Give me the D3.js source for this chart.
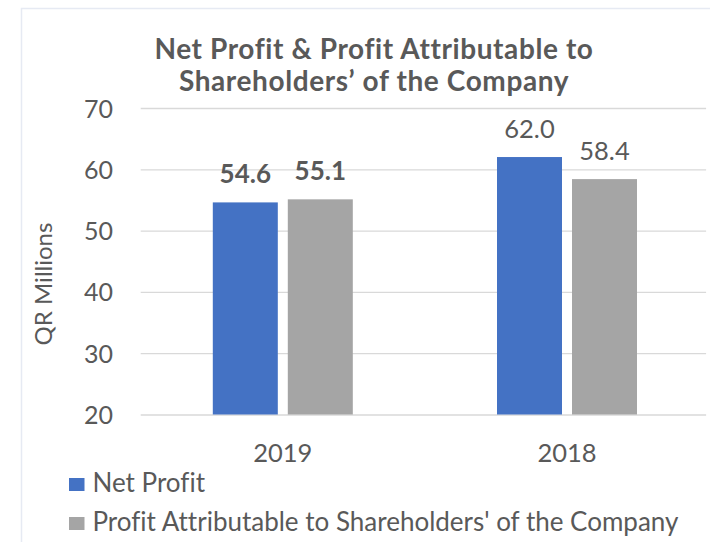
<!DOCTYPE html>
<html>
<head>
<meta charset="utf-8">
<script src="https://cdn.jsdelivr.net/npm/d3@7"></script>
<style>
  html, body { margin: 0; padding: 0; background: #ffffff; }
  svg { display: block; }
  text { font-family: Lato, "Open Sans", sans-serif; fill: #595959; font-variant-ligatures: none; }
</style>
</head>
<body>
<script>
// ---- data ----
const categories = ["2019", "2018"];
const seriesNames = ["Net Profit", "Profit Attributable to Shareholders' of the Company"];
const netProfit = [54.6, 62.0];
const profitAttributable = [55.1, 58.4];
const yTicks = [20, 30, 40, 50, 60, 70];
const titleLines = ["Net Profit & Profit Attributable to", "Shareholders\u2019 of the Company"];
const yAxisTitle = "QR Millions";
const colors = ["#4472C4", "#A5A5A5"];

const W = 710, H = 542;
const svg = d3.select("body").append("svg").attr("width", W).attr("height", H);
svg.append("rect").attr("width", W).attr("height", H).attr("fill", "#fff");

// faint chart-area border
svg.append("rect").attr("x", 21.5).attr("y", 8.5).attr("width", 720).attr("height", 600)
  .attr("fill", "none").attr("stroke", "#e6eaf3").attr("stroke-width", 1.5);

const plot = { left: 140.7, right: 709.1, top: 108, bottom: 414.5 };

const y = d3.scaleLinear().domain([20, 70]).range([plot.bottom, plot.top]);
const x0 = d3.scaleBand().domain(categories).range([plot.left, plot.right]).paddingInner(0).paddingOuter(0);
const groupW = 140;
const off = (x0.bandwidth() - groupW) / 2;
const x1 = d3.scaleBand().domain(seriesNames).range([off, off + groupW]).paddingInner(10 / 75).paddingOuter(0);

// gridlines via axis
const gridAxis = d3.axisLeft(y).tickValues(yTicks).tickSize(-(plot.right - plot.left - 3)).tickFormat("");
const g = svg.append("g").attr("transform", `translate(${plot.left},0)`).call(gridAxis);
g.select(".domain").remove();
g.selectAll(".tick line").attr("stroke", "#d9d9d9").attr("stroke-width", 1.3);

// y tick labels
const yAx = d3.axisLeft(y).tickValues(yTicks).tickSize(0).tickPadding(0);
const ya = svg.append("g").attr("transform", `translate(113,0)`).call(yAx);
ya.select(".domain").remove();
ya.selectAll(".tick text").attr("font-size", 25).attr("font-family", "Lato").attr("fill", "#595959").attr("dy", "0.36em");

// y axis title
svg.append("text").attr("transform", `translate(52,284) rotate(-90)`)
  .attr("text-anchor", "middle").attr("font-size", 24).text(yAxisTitle);

// bars
const data = categories.map((c, i) => ({ cat: c, vals: [netProfit[i], profitAttributable[i]] }));
const groups = svg.selectAll("g.grp").data(data).join("g").attr("class", "grp")
  .attr("transform", d => `translate(${x0(d.cat)},0)`);
groups.selectAll("rect").data(d => d.vals.map((v, j) => ({ v, s: seriesNames[j], j, cat: d.cat })))
  .join("rect")
  .attr("x", d => x1(d.s)).attr("width", x1.bandwidth())
  .attr("y", d => y(d.v)).attr("height", d => y(20) - y(d.v))
  .attr("fill", d => colors[d.j]);
groups.selectAll("text.lbl").data(d => d.vals.map((v, j) => ({ v, s: seriesNames[j], j, cat: d.cat })))
  .join("text").attr("class", "lbl")
  .attr("x", d => x1(d.s) + x1.bandwidth() / 2)
  .attr("y", d => y(d.v) - 19.5)
  .attr("text-anchor", "middle")
  .attr("font-size", d => d.cat === "2019" ? 26 : 25.5)
  .attr("font-weight", d => d.cat === "2019" ? "bold" : "normal")
  .attr("fill", d => d.cat === "2019" ? "#404040" : "#595959")
  .text(d => d.v.toFixed(1));

// x axis labels
const xAx = d3.axisBottom(x0).tickSize(0).tickPadding(0);
const xa = svg.append("g").attr("transform", `translate(0,462)`).call(xAx);
xa.select(".domain").remove();
xa.selectAll(".tick text").attr("font-size", 25.5).attr("font-family", "Lato").attr("fill", "#595959").attr("dy", 0);

// title
svg.append("g").selectAll("text").data(titleLines).join("text")
  .attr("x", 374).attr("y", (d, i) => 59 + i * 32)
  .attr("text-anchor", "middle").attr("font-weight", "bold").attr("font-size", 28)
  .attr("letter-spacing", 0.6)
  .text(d => d);

// legend
const leg = svg.append("g").selectAll("g").data(seriesNames).join("g")
  .attr("transform", (d, i) => `translate(69,${478 + i * 39})`);
leg.append("rect").attr("width", 15.5).attr("height", 13).attr("fill", (d, i) => colors[i]);
leg.append("text").attr("x", 23.5).attr("y", 13.5).attr("font-size", 26).text(d => d);
</script>
</body>
</html>
